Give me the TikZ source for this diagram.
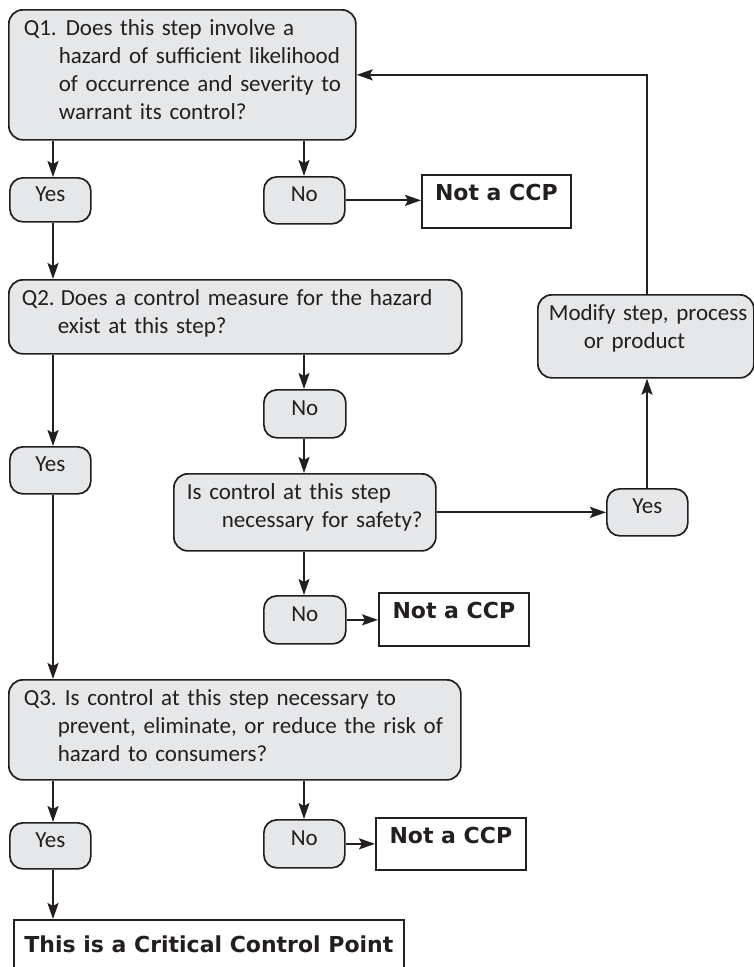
\documentclass[tikz,border=0pt]{standalone}
\usepackage{fontspec}
\setmainfont{Carlito}
\newfontfamily\heavyfont{DejaVu Sans}
\usetikzlibrary{arrows.meta}

\definecolor{edge}{RGB}{35,31,32}
\definecolor{boxgray}{RGB}{230,231,232}

\hfuzz=200pt
\hbadness=10000

\newcommand{\regfont}{\fontsize{23}{28}\selectfont}
\newcommand{\boldfont}{\heavyfont\bfseries\fontsize{22}{26}\selectfont}
% one unbreakable line of a question, with its own left indent
\newcommand{\qline}[2]{\mbox{\hspace*{#1}#2}}

\tikzset{
  qbox/.style={draw=edge, fill=boxgray, line width=1.7pt, rounded corners=14pt,
    anchor=north west, inner ysep=0pt, align=left, font=\regfont, text=edge},
  ynbox/.style={draw=edge, fill=boxgray, line width=1.7pt, rounded corners=13pt,
    anchor=north west, inner sep=0pt, text height=12pt, text depth=9pt,
    font=\regfont, text=edge},
  endbox/.style={draw=edge, fill=white, line width=1.7pt, anchor=north west,
    inner sep=0pt, text height=10pt, text depth=11pt, font=\boldfont, text=edge},
  flow/.style={draw=edge, line width=2pt, -{Stealth[length=16pt,width=11pt,inset=3pt]}},
}

\begin{document}
\begin{tikzpicture}[x=1pt, y=-1pt]
\useasboundingbox (0,0) rectangle (754,967);
\clip (0,0) rectangle (754,967);

% column guides for the vertical connectors
\coordinate (colL) at (53,0);
\coordinate (colR) at (304,0);
\coordinate (colM) at (647,0);

% question boxes
\node[qbox, minimum width=347pt, minimum height=130pt, text width=317pt,
      inner xsep=15pt, text height=12pt, text depth=90pt] (q1) at (8,9)
  {\mbox{\makebox[42pt][l]{Q1.}Does this step involve a}\\
   \qline{35pt}{hazard of sufficient likelihood}\\
   \qline{35pt}{of occurrence and severity to}\\
   \qline{35pt}{warrant its control?}};

\node[qbox, minimum width=453pt, minimum height=74pt, text width=427pt,
      inner xsep=13pt, text height=14pt, text depth=36pt] (q2) at (8,279)
  {\mbox{\makebox[39pt][l]{Q2.}Does a control measure for the hazard}\\
   \qline{36pt}{exist at this step?}};

\node[qbox, minimum width=262pt, minimum height=77pt, text width=236pt,
      inner xsep=13pt, text height=14pt, text depth=39pt] (safety) at (173,473)
  {\qline{0pt}{Is control at this step}\\
   \qline{35pt}{necessary for safety?}};

\node[qbox, minimum width=216pt, minimum height=83pt, text width=194pt,
      inner xsep=11pt, text height=14pt, text depth=45pt] (modify) at (537,294)
  {\qline{0pt}{Modify step, process}\\
   \qline{35pt}{or product}};

\node[qbox, minimum width=452pt, minimum height=100pt, text width=422pt,
      inner xsep=15pt, text height=14pt, text depth=62pt] (q3) at (8,679)
  {\mbox{\makebox[41pt][l]{Q3.}Is control at this step necessary to}\\
   \qline{34pt}{prevent, eliminate, or reduce the risk of}\\
   \qline{34pt}{hazard to consumers?}};

% answer boxes
\node[ynbox, minimum width=81pt, minimum height=44pt] (yes1) at (9,177) {Yes};
\node[ynbox, minimum width=81pt, minimum height=47pt] (no1) at (263,176) {No};
\node[ynbox, minimum width=81pt, minimum height=47pt] (yes2) at (9,446) {Yes};
\node[ynbox, minimum width=82pt, minimum height=48pt] (no2) at (263,389) {No};
\node[ynbox, minimum width=81pt, minimum height=47pt] (yes3) at (606,488) {Yes};
\node[ynbox, minimum width=82pt, minimum height=48pt] (no3) at (263,595) {No};
\node[ynbox, minimum width=81pt, minimum height=46pt] (yes4) at (9,822) {Yes};
\node[ynbox, minimum width=81pt, minimum height=48pt] (no4) at (263,819) {No};

% outcome boxes
\node[endbox, minimum width=149pt, minimum height=53pt] (ncA) at (421,174) {Not a CCP};
\node[endbox, minimum width=150pt, minimum height=53pt] (ncB) at (378,592) {Not a CCP};
\node[endbox, minimum width=150pt, minimum height=52pt] (ncC) at (375,817) {Not a CCP};
\node[endbox, minimum width=390pt, minimum height=66pt, text height=10pt, text depth=10pt]
  (ccp) at (13,919) {This is a Critical Control Point};

% connectors
\draw[flow] (q1.south -| colL) -- (yes1.north -| colL);
\draw[flow] (q1.south -| colR) -- (no1.north -| colR);
\draw[flow] (no1.east) -- (no1.east -| ncA.west);
\draw[flow] (yes1.south -| colL) -- (q2.north -| colL);
\draw[flow] (q2.south -| colL) -- (yes2.north -| colL);
\draw[flow] (q2.south -| colR) -- (no2.north -| colR);
\draw[flow] (no2.south -| colR) -- (safety.north -| colR);
\draw[flow] (safety.east) -- (safety.east -| yes3.west);
\draw[flow] (yes3.north -| colM) -- (modify.south -| colM);
\draw[flow] (modify.north -| colM) |- (q1.east);
\draw[flow] (safety.south -| colR) -- (no3.north -| colR);
\draw[flow] (no3.east) -- (no3.east -| ncB.west);
\draw[flow] (yes2.south -| colL) -- (q3.north -| colL);
\draw[flow] (q3.south -| colL) -- (yes4.north -| colL);
\draw[flow] (q3.south -| colR) -- (no4.north -| colR);
\draw[flow] (no4.east) -- (no4.east -| ncC.west);
\draw[flow] (yes4.south -| colL) -- (ccp.north -| colL);
\end{tikzpicture}
\end{document}
